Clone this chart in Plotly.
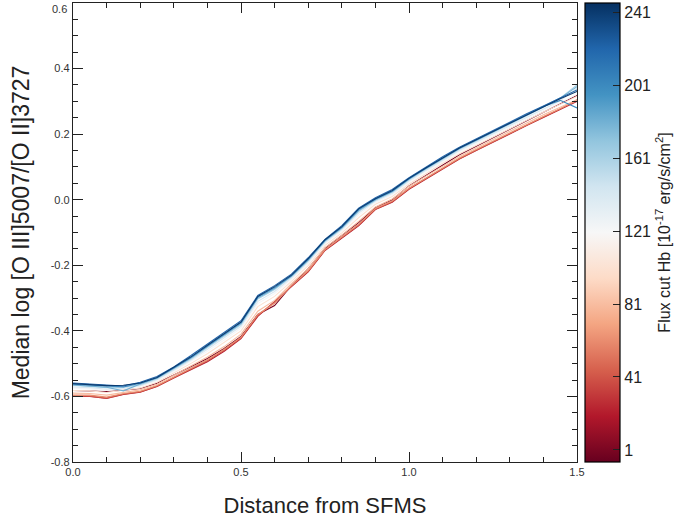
import plotly.graph_objects as go
from plotly.colors import sample_colorscale

X = [0.00, 0.05, 0.10, 0.15, 0.20, 0.25, 0.30, 0.35, 0.40, 0.45, 0.50,
     0.55, 0.60, 0.65, 0.70, 0.75, 0.80, 0.85, 0.90, 0.95, 1.00,
     1.05, 1.10, 1.15, 1.20, 1.25, 1.30, 1.35, 1.40, 1.45, 1.50]

flux_cuts = [1, 21, 41, 61, 81, 101, 121, 141, 161, 181, 201, 221, 241]

f1 = [-0.582, -0.584, -0.585, -0.581, -0.576, -0.560, -0.534, -0.508, -0.484, -0.454, -0.417,
      -0.350, -0.323, -0.262, -0.210, -0.148, -0.110, -0.070, -0.024, 0.000, 0.042,
      0.073, 0.106, 0.137, 0.163, 0.189, 0.215, 0.241, 0.267, 0.293, 0.318]
f21 = [-0.600, -0.600, -0.606, -0.594, -0.587, -0.570, -0.544, -0.518, -0.494, -0.462, -0.424,
       -0.356, -0.310, -0.265, -0.220, -0.155, -0.118, -0.080, -0.030, -0.008, 0.032,
       0.062, 0.094, 0.124, 0.150, 0.176, 0.202, 0.226, 0.251, 0.276, 0.300]
f41 = [-0.598, -0.599, -0.605, -0.593, -0.586, -0.569, -0.543, -0.516, -0.491, -0.459, -0.421,
       -0.353, -0.312, -0.263, -0.218, -0.153, -0.116, -0.077, -0.029, -0.006, 0.034,
       0.064, 0.095, 0.125, 0.151, 0.177, 0.203, 0.227, 0.252, 0.277, 0.305]
f61 = [-0.596, -0.596, -0.602, -0.591, -0.584, -0.567, -0.541, -0.514, -0.488, -0.456, -0.419,
       -0.350, -0.316, -0.262, -0.216, -0.152, -0.114, -0.075, -0.027, -0.004, 0.035,
       0.066, 0.097, 0.127, 0.153, 0.179, 0.205, 0.229, 0.254, 0.279, 0.302]
f81 = [-0.590, -0.591, -0.596, -0.587, -0.580, -0.563, -0.536, -0.508, -0.480, -0.448, -0.410,
       -0.340, -0.307, -0.256, -0.210, -0.146, -0.108, -0.066, -0.022, 0.002, 0.041,
       0.072, 0.103, 0.132, 0.158, 0.184, 0.210, 0.234, 0.259, 0.283, 0.305]
f101 = [-0.582, -0.583, -0.588, -0.582, -0.574, -0.557, -0.529, -0.500, -0.470, -0.436, -0.400,
        -0.326, -0.295, -0.249, -0.201, -0.139, -0.101, -0.055, -0.014, 0.010, 0.048,
        0.079, 0.111, 0.140, 0.166, 0.191, 0.217, 0.242, 0.267, 0.292, 0.315]
f121 = [-0.575, -0.577, -0.582, -0.577, -0.569, -0.552, -0.524, -0.494, -0.462, -0.428, -0.392,
        -0.317, -0.286, -0.243, -0.195, -0.134, -0.095, -0.047, -0.009, 0.015, 0.053,
        0.085, 0.116, 0.146, 0.171, 0.196, 0.222, 0.247, 0.272, 0.297, 0.322]
f141 = [-0.571, -0.573, -0.578, -0.575, -0.567, -0.549, -0.520, -0.490, -0.456, -0.422, -0.386,
        -0.310, -0.280, -0.239, -0.190, -0.131, -0.091, -0.041, -0.005, 0.019, 0.057,
        0.089, 0.120, 0.150, 0.175, 0.200, 0.226, 0.251, 0.276, 0.302, 0.340]
f161 = [-0.566, -0.570, -0.573, -0.572, -0.564, -0.546, -0.517, -0.487, -0.451, -0.416, -0.381,
        -0.303, -0.274, -0.235, -0.186, -0.127, -0.088, -0.036, -0.002, 0.023, 0.061,
        0.093, 0.124, 0.154, 0.179, 0.204, 0.230, 0.256, 0.282, 0.310, 0.350]
f181 = [-0.565, -0.568, -0.572, -0.583, -0.562, -0.544, -0.515, -0.484, -0.448, -0.414, -0.378,
        -0.300, -0.271, -0.233, -0.184, -0.125, -0.086, -0.033, 0.000, 0.025, 0.063,
        0.095, 0.126, 0.156, 0.181, 0.206, 0.232, 0.258, 0.284, 0.310, 0.345]
f201 = [-0.563, -0.566, -0.570, -0.571, -0.560, -0.543, -0.513, -0.482, -0.446, -0.411, -0.375,
        -0.297, -0.268, -0.232, -0.182, -0.124, -0.084, -0.030, 0.002, 0.026, 0.064,
        0.096, 0.127, 0.157, 0.182, 0.207, 0.233, 0.259, 0.284, 0.303, 0.280]
f221 = [-0.559, -0.563, -0.565, -0.568, -0.557, -0.539, -0.510, -0.476, -0.440, -0.404, -0.369,
        -0.292, -0.262, -0.227, -0.177, -0.121, -0.079, -0.026, 0.006, 0.031, 0.067,
        0.099, 0.131, 0.160, 0.186, 0.211, 0.236, 0.262, 0.286, 0.310, 0.335]
f241 = [-0.561, -0.564, -0.567, -0.566, -0.559, -0.542, -0.512, -0.480, -0.444, -0.408, -0.373,
        -0.295, -0.265, -0.230, -0.180, -0.122, -0.082, -0.028, 0.003, 0.028, 0.065,
        0.097, 0.128, 0.158, 0.183, 0.208, 0.234, 0.260, 0.285, 0.308, 0.330]

series = [f1, f21, f41, f61, f81, f101, f121, f141, f161, f181, f201, f221, f241]

y_ticks = [-0.8, -0.6, -0.4, -0.2, 0.0, 0.2, 0.4]
y_top_label = 0.6
x_ticks = [0.0, 0.5, 1.0, 1.5]
cbar_ticks = [1, 41, 81, 121, 161, 201, 241]
CMIN, CMAX = -5.6, 246.0

RDBU = ['rgb(103,0,31)', 'rgb(178,24,43)', 'rgb(214,96,77)', 'rgb(244,165,130)',
        'rgb(253,219,199)', 'rgb(247,247,247)', 'rgb(209,229,240)', 'rgb(146,197,222)',
        'rgb(67,147,195)', 'rgb(33,102,172)', 'rgb(5,48,97)']
cscale = [[i / (len(RDBU) - 1), c] for i, c in enumerate(RDBU)]

FONT = "Liberation Sans, Arial, sans-serif"

fig = go.Figure()
for fc, ys in zip(flux_cuts, series):
    col = sample_colorscale(cscale, [(fc - CMIN) / (CMAX - CMIN)])[0]
    fig.add_trace(go.Scatter(x=X, y=ys, mode="lines", line=dict(color=col, width=1.1),
                             showlegend=False, hoverinfo="skip"))

fig.add_trace(go.Scatter(
    x=[None], y=[None], mode="markers", showlegend=False,
    marker=dict(color=[1], cmin=CMIN, cmax=CMAX, colorscale=cscale, showscale=True,
                colorbar=dict(
                    x=1.016, xanchor="left", xpad=0, y=0.5, yanchor="middle", ypad=0,
                    len=1.0, thickness=35, outlinecolor="black", outlinewidth=1.2,
                    tickvals=cbar_ticks, ticktext=[str(t) for t in cbar_ticks],
                    ticks="inside", ticklen=7, tickcolor="#222",
                    tickfont=dict(family=FONT, size=16, color="#222"),
                    title=dict(text="Flux cut Hb [10<sup>-17</sup> erg/s/cm<sup>2</sup>]",
                               side="right", font=dict(family=FONT, size=16, color="#222")),
                ))))

axis_common = dict(
    showgrid=False, zeroline=False, showline=True, linecolor="#222", linewidth=1.3,
    mirror="ticks", ticks="inside", ticklen=10, tickwidth=1, tickcolor="#222",
    tickfont=dict(family=FONT, size=11, color="#333"),
)

fig.update_xaxes(range=[0, 1.5], tickvals=x_ticks,
                 ticktext=["%.1f" % v for v in x_ticks],
                 minor=dict(dtick=0.1, ticks="inside", ticklen=5, tickcolor="#222", showgrid=False),
                 title=dict(text="Distance from SFMS", font=dict(family=FONT, size=22, color="#222"),
                            standoff=20),
                 **axis_common)
fig.update_yaxes(range=[-0.8, 0.6], tickvals=y_ticks + [y_top_label],
                 ticktext=["%.1f" % v for v in y_ticks] + [""],
                 minor=dict(dtick=0.05, ticks="inside", ticklen=5, tickcolor="#222", showgrid=False),
                 title=dict(text="Median log [O III]5007/[O II]3727",
                            font=dict(family=FONT, size=23, color="#222"), standoff=14),
                 **axis_common)

# the top tick label sits just below the frame in the reference
fig.add_annotation(x=0, xref="paper", xanchor="right", xshift=-4,
                   y=y_top_label, yref="y", yanchor="top", yshift=2,
                   text="%.1f" % y_top_label, showarrow=False,
                   font=dict(family=FONT, size=11, color="#333"))

fig.update_layout(
    width=678, height=519,
    margin=dict(l=73, r=101, t=3, b=57),
    plot_bgcolor="white", paper_bgcolor="white",
    font=dict(family=FONT),
)

fig.write_html("out.html")
